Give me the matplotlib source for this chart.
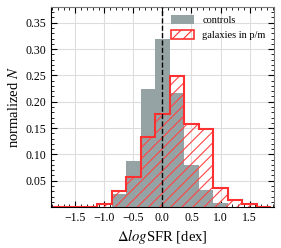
import numpy as np
import matplotlib
matplotlib.use("Agg")
import matplotlib.pyplot as plt
from matplotlib.ticker import MultipleLocator

plt.rcParams["font.family"] = ["Liberation Serif", "DejaVu Serif"]
plt.rcParams["mathtext.fontset"] = "stix"
plt.rcParams["hatch.linewidth"] = 0.8

# bin edges of the histogram (width 0.25 dex)
bin_edges = np.arange(-1.875, 1.876, 0.25)
bin_centers = 0.5 * (bin_edges[:-1] + bin_edges[1:])

# normalized counts per bin
controls = [0, 0, 0, 0, 0.025, 0.087, 0.224, 0.319, 0.217, 0.080, 0.032, 0.008, 0, 0, 0]
galaxies_pm = [0, 0, 0, 0.005, 0.030, 0.058, 0.133, 0.177, 0.249, 0.158, 0.148, 0.036, 0.013, 0.006, 0]

labels = ["controls", "galaxies in p/m"]

fig = plt.figure(figsize=(2.81, 2.48), dpi=100)
ax = fig.add_axes([0.181, 0.165, 0.794, 0.807])

ax.grid(True, color="#dddddd", linewidth=0.8, zorder=0)

ax.hist(bin_centers, bins=bin_edges, weights=controls,
        color="#95a3a4", label=labels[0], zorder=2)

ax.hist(bin_centers, bins=bin_edges, weights=galaxies_pm,
        histtype="stepfilled", fill=False, hatch="///",
        edgecolor="#ff4444", linewidth=0, zorder=3)

ax.hist(bin_centers, bins=bin_edges, weights=galaxies_pm,
        histtype="step", color="#ff3030", linewidth=1.5, zorder=4)

# proxy patch for the legend
ax.bar([0], [0], color="none", edgecolor="#ff3030", hatch="///",
       linewidth=1.2, label=labels[1])

ax.axvline(0, color="black", linestyle="--", linewidth=1.0, zorder=5)

ax.set_xlim(-1.92, 1.92)
ax.set_ylim(0, 0.38)

ax.xaxis.set_minor_locator(MultipleLocator(0.1))
ax.yaxis.set_minor_locator(MultipleLocator(0.01))
ax.set_yticks([0.05, 0.10, 0.15, 0.20, 0.25, 0.30, 0.35])
ax.set_xticks([-1.5, -1.0, -0.5, 0.0, 0.5, 1.0, 1.5])
ax.set_xticklabels(["\u22121.5", "\u22121.0", "\u22120.5", "0.0", "0.5", "1.0", "1.5"])

ax.tick_params(which="both", direction="in", top=True, right=True, labelsize=8.5)
ax.tick_params(which="major", length=4)
ax.tick_params(which="minor", length=2)

for side in ["top", "right"]:
    ax.spines[side].set_color("#777777")
for side in ["left", "bottom"]:
    ax.spines[side].set_color("black")

ax.set_xlabel(r"$\Delta log$SFR [dex]", fontsize=10.5, labelpad=2)
ax.set_ylabel(r"normalized $N$", fontsize=10.5, labelpad=3)

ax.legend(loc="upper right", fontsize=7.5, frameon=False,
          handlelength=2.2, handleheight=0.9, borderaxespad=0.4)

fig.savefig("out.png", dpi=100)
